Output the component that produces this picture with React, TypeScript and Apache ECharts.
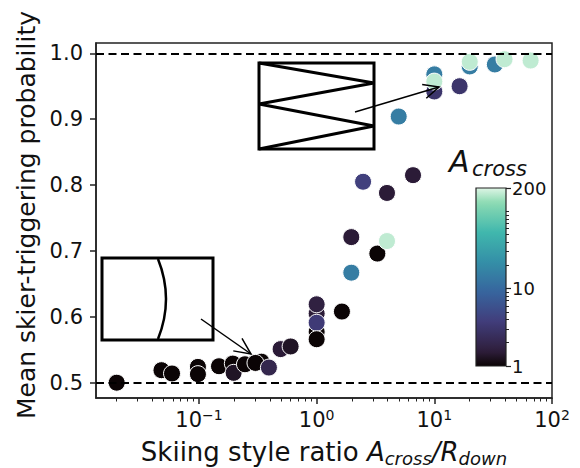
import React, { useEffect, useRef } from "react";
import * as echarts from "echarts";

// ---- data ----
const xTickValues = [0.1, 1, 10, 100];
const yTickValues = [0.5, 0.6, 0.7, 0.8, 0.9, 1.0];
const colorbarTickValues = [1, 10, 200];
const referenceLevels = [0.5, 1.0];

// skiing style ratio A_cross / R_down
const ratio = [
  0.02, 0.048, 0.059, 0.098, 0.098, 0.148, 0.194, 0.197, 0.246, 0.339, 0.302, 0.393,
  0.494, 0.601, 1.0, 1.0, 1.0, 1.0, 1.0, 1.64, 1.97, 1.97, 2.48, 3.28, 3.96, 3.96,
  6.59, 4.98, 10, 10, 10, 16.4, 20, 20, 32.7, 39.5, 65.8,
];
// mean skier-triggering probability
const probability = [
  0.5, 0.519, 0.514, 0.524, 0.513, 0.525, 0.529, 0.515, 0.528, 0.532, 0.53, 0.523,
  0.551, 0.555, 0.605, 0.577, 0.619, 0.591, 0.566, 0.608, 0.721, 0.667, 0.805, 0.696,
  0.788, 0.715, 0.815, 0.904, 0.968, 0.942, 0.957, 0.95, 0.98, 0.987, 0.983, 0.991, 0.989,
];
// A_cross (colour)
const aCross = [
  1, 1, 1, 1, 1, 1, 1, 1.3, 1, 1, 1, 2,
  1.5, 1.3, 1.5, 1, 1.7, 3.5, 1, 1, 1.5, 15, 4, 1,
  1.5, 170, 1.5, 15, 15, 3, 170, 3, 15, 170, 15, 170, 170,
];

const X_MIN = -1.875; // log10 of left edge
const X_MAX = 2;
const Y_MIN = 0.4768;
const Y_MAX = 1.0156;
const A_MAX = 200;

const FONT = "DejaVu Sans";
const INK = "#111";

const makoAnchors: [number, string][] = [
  [0, "#0b0405"],
  [1 / 12, "#2e1e3b"],
  [3 / 12, "#413d7b"],
  [5 / 12, "#37659e"],
  [7 / 12, "#348fa7"],
  [9 / 12, "#40b7ad"],
  [11 / 12, "#8bdab2"],
  [1, "#def5e5"],
];

function hexToRgb(h: string) {
  const n = parseInt(h.slice(1), 16);
  return [(n >> 16) & 255, (n >> 8) & 255, n & 255];
}
function mako(t: number) {
  t = Math.max(0, Math.min(1, t));
  for (let i = 0; i < makoAnchors.length - 1; i++) {
    const [t0, c0] = makoAnchors[i];
    const [t1, c1] = makoAnchors[i + 1];
    if (t <= t1) {
      const f = (t - t0) / (t1 - t0);
      const a = hexToRgb(c0);
      const b = hexToRgb(c1);
      const c = a.map((v, k) => Math.round(v + (b[k] - v) * f));
      return `rgb(${c[0]},${c[1]},${c[2]})`;
    }
  }
  return makoAnchors[makoAnchors.length - 1][1];
}

function arrowHead(x0: number, y0: number, x1: number, y1: number, len: number, deg: number) {
  const ang = Math.atan2(y0 - y1, x0 - x1);
  const d = (deg * Math.PI) / 180;
  return [
    [x1 + len * Math.cos(ang + d), y1 + len * Math.sin(ang + d)],
    [x1, y1],
    [x1 + len * Math.cos(ang - d), y1 + len * Math.sin(ang - d)],
  ];
}

export default function App() {
  const ref = useRef<HTMLDivElement>(null);
  useEffect(() => {
    if (!ref.current) return;
    const chart = echarts.init(ref.current, null, { renderer: "svg" });

    const data = ratio.map((x, i) => [Math.log10(x), probability[i], Math.log10(aCross[i])]);

    const xMinor: number[] = [];
    for (let d = -2; d <= 1; d++) {
      for (let k = 2; k <= 9; k++) {
        const v = Math.log10(k * Math.pow(10, d));
        if (v > X_MIN && v < X_MAX) xMinor.push(v);
      }
    }
    const cbMinor: number[] = [];
    for (let k = 2; k <= 9; k++) cbMinor.push(Math.log10(k));
    for (let k = 20; k <= 100; k += 10) cbMinor.push(Math.log10(k));

    const aMaxLog = Math.log10(A_MAX);
    const makoColors = Array.from({ length: 41 }, (_, i) => mako(i / 40));
    const gradStops = Array.from({ length: 41 }, (_, i) => ({ offset: i / 40, color: mako(i / 40) }));

    const a1 = { x0: 201, y0: 319, x1: 251, y1: 354 };
    const a2 = { x0: 355, y0: 112, x1: 439, y1: 87 };

    const option: any = {
      animation: false,
      textStyle: { fontFamily: FONT },
      grid: [
        { left: 96, top: 43, width: 456, height: 355, show: true, borderColor: "#222", borderWidth: 1.5, backgroundColor: "transparent" },
        {
          left: 476, top: 188, width: 30, height: 178, show: true, borderColor: "#222", borderWidth: 1.2,
          backgroundColor: { type: "linear", x: 0, y: 1, x2: 0, y2: 0, colorStops: gradStops },
        },
      ],
      xAxis: [
        {
          type: "value", gridIndex: 0, min: X_MIN, max: X_MAX, position: "bottom",
          axisLine: { onZero: false, lineStyle: { color: "#222", width: 1.5 } },
          axisTick: { customValues: xTickValues.map(Math.log10), length: 6, lineStyle: { color: "#222", width: 1.5 } },
          axisLabel: {
            customValues: xTickValues.map(Math.log10),
            margin: 10,
            formatter: (v: number) => {
              const e = Math.round(v);
              const sup = e < 0 ? "\u2212" + Math.abs(e) : String(e);
              return `{b|10}{s|${sup}}`;
            },
            rich: {
              b: { fontSize: 21, lineHeight: 24, color: INK, fontFamily: FONT },
              s: { fontSize: 14, lineHeight: 14, color: INK, fontFamily: FONT, verticalAlign: "top" },
            },
          },
          splitLine: { show: false },
        },
        {
          type: "value", gridIndex: 0, min: X_MIN, max: X_MAX, position: "bottom",
          axisLine: { show: false, onZero: false },
          axisTick: { customValues: xMinor, length: 3.5, lineStyle: { color: "#222", width: 1 } },
          axisLabel: { show: false },
          splitLine: { show: false },
        },
        { type: "value", gridIndex: 1, min: 0, max: 1, show: false },
      ],
      yAxis: [
        {
          type: "value", gridIndex: 0, min: Y_MIN, max: Y_MAX,
          axisLine: { show: true, onZero: false, lineStyle: { color: "#222", width: 1.5 } },
          axisTick: { show: true, customValues: yTickValues, length: 6, lineStyle: { color: "#222", width: 1.5 } },
          axisLabel: { customValues: yTickValues, formatter: (v: number) => v.toFixed(1), fontSize: 21, margin: 13, color: INK },
          splitLine: { show: false },
        },
        {
          type: "value", gridIndex: 1, min: 0, max: aMaxLog, position: "right",
          axisLine: { show: false, onZero: false },
          axisTick: { show: true, customValues: colorbarTickValues.map(Math.log10), length: 5, lineStyle: { color: "#222", width: 1.2 } },
          axisLabel: {
            customValues: colorbarTickValues.map(Math.log10),
            formatter: (v: number) => String(Math.round(Math.pow(10, v))),
            fontSize: 18, margin: 6, color: INK,
          },
          splitLine: { show: false },
        },
        {
          type: "value", gridIndex: 1, min: 0, max: aMaxLog, position: "right",
          axisLine: { show: false, onZero: false },
          axisTick: { show: true, customValues: cbMinor, length: 3, lineStyle: { color: "#222", width: 1 } },
          axisLabel: { show: false },
          splitLine: { show: false },
        },
      ],
      visualMap: {
        type: "continuous", show: false, seriesIndex: 1, dimension: 2,
        min: 0, max: aMaxLog, inRange: { color: makoColors },
      },
      series: [
        {
          type: "scatter", xAxisIndex: 0, yAxisIndex: 0, data: [], z: 1, silent: true,
          markLine: {
            silent: true, symbol: ["none", "none"], label: { show: false },
            lineStyle: { color: "#000", width: 2, type: [8, 4.5] },
            data: referenceLevels.map((v) => ({ yAxis: v })),
          },
        },
        {
          type: "scatter", xAxisIndex: 0, yAxisIndex: 0, z: 3,
          symbolSize: 17,
          itemStyle: { borderColor: "#fff", borderWidth: 1, opacity: 1 },
          data,
        },
      ],
      graphic: [
        {
          type: "text", x: 26, y: 215, rotation: Math.PI / 2,
          style: { text: "Mean skier-triggering probability", fontSize: 25, fontFamily: FONT, fill: INK, align: "center", verticalAlign: "middle" },
        },
        {
          type: "text", x: 324, y: 452,
          style: {
            text: "{n|Skiing style ratio }{i|A}{s|cross}{i|/R}{s|down}",
            align: "center", verticalAlign: "middle", fill: INK,
            rich: {
              n: { fontSize: 26, lineHeight: 30, fontFamily: FONT, fill: INK, color: INK },
              i: { fontSize: 26, lineHeight: 30, fontFamily: FONT, fontStyle: "italic", fill: INK, color: INK },
              s: { fontSize: 18, lineHeight: 15, fontFamily: FONT, fontStyle: "italic", fill: INK, color: INK, verticalAlign: "bottom" },
            },
          },
        },
        {
          type: "text", x: 449, y: 161,
          style: { text: "A", fontSize: 30, fontStyle: "italic", fontFamily: FONT, fill: INK, align: "left", verticalAlign: "middle" },
        },
        {
          type: "text", x: 472, y: 169,
          style: { text: "cross", fontSize: 21, fontStyle: "italic", fontFamily: FONT, fill: INK, align: "left", verticalAlign: "middle" },
        },
        // lower-left inset
        {
          type: "rect", z: 10, shape: { x: 102, y: 258, width: 111, height: 82 },
          style: { fill: "#fff", stroke: "#000", lineWidth: 3 },
        },
        {
          type: "bezierCurve", z: 11, shape: { x1: 158, y1: 259, x2: 158, y2: 339, cpx1: 174, cpy1: 299 },
          style: { fill: "none", stroke: "#000", lineWidth: 2.5 },
        },
        {
          type: "line", z: 11, shape: { x1: a1.x0, y1: a1.y0, x2: a1.x1, y2: a1.y1 },
          style: { stroke: "#000", lineWidth: 1.5 },
        },
        {
          type: "polyline", z: 11, shape: { points: arrowHead(a1.x0, a1.y0, a1.x1, a1.y1, 18, 25) },
          style: { fill: "none", stroke: "#000", lineWidth: 1.5 },
        },
        // upper inset
        {
          type: "rect", z: 10, shape: { x: 259, y: 63, width: 115, height: 86 },
          style: { fill: "#fff", stroke: "#000", lineWidth: 3 },
        },
        {
          type: "polyline", z: 11, shape: { points: [[259, 63], [374, 83], [259, 104], [374, 126], [259, 149]] },
          style: { fill: "none", stroke: "#000", lineWidth: 3 },
        },
        {
          type: "line", z: 11, shape: { x1: a2.x0, y1: a2.y0, x2: a2.x1, y2: a2.y1 },
          style: { stroke: "#000", lineWidth: 1.5 },
        },
        {
          type: "polyline", z: 11, shape: { points: arrowHead(a2.x0, a2.y0, a2.x1, a2.y1, 17, 25) },
          style: { fill: "none", stroke: "#000", lineWidth: 1.5 },
        },
      ],
    };

    chart.setOption(option);
    return () => chart.dispose();
  }, []);

  return <div ref={ref} style={{ position: "absolute", left: 0, top: 0, width: 580, height: 468, background: "#fff" }} />;
}
